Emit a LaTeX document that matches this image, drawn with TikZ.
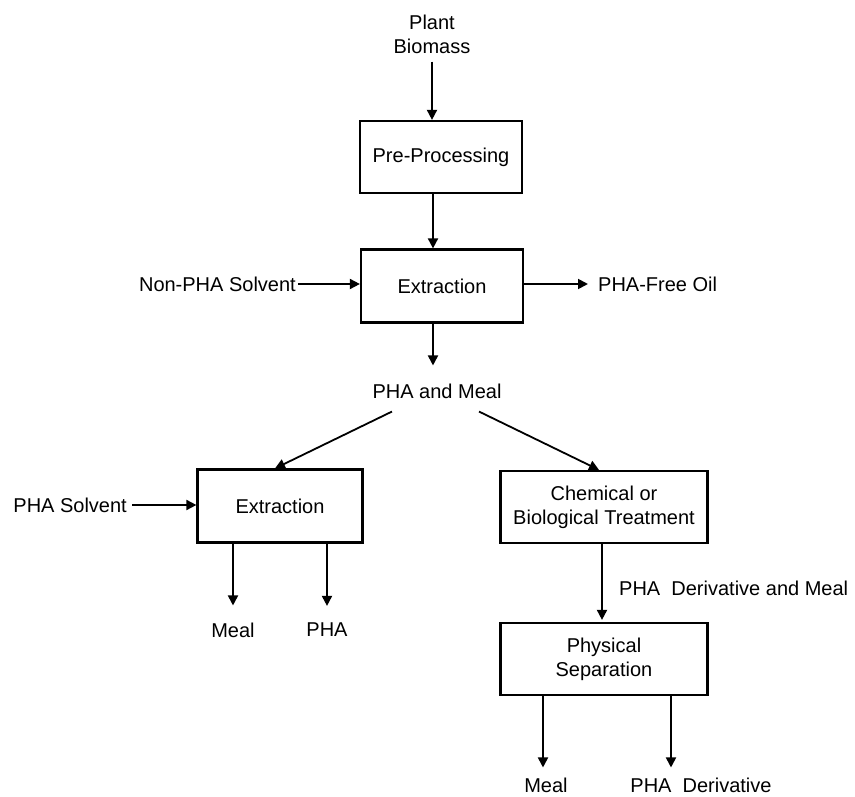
\documentclass[tikz,border=0pt]{standalone}
\usepackage{fontspec}
\setmainfont{Liberation Sans}
\usetikzlibrary{arrows.meta, positioning}

\begin{document}
\begin{tikzpicture}[
  x=1pt, y=-1pt,
  stage/.style={draw, line width=2.2pt, align=center, inner sep=0pt,
                font=\fontsize{20}{24}\selectfont},
  stream/.style={align=center, inner sep=0pt, font=\fontsize{20}{24}\selectfont},
  flow/.style={-{Triangle[length=10pt, width=10pt]}, line width=1.8pt}
]
\useasboundingbox (0,0) rectangle (855,797);

% process units
\node[stage, minimum width=162pt, minimum height=72pt] (pre)   at (441,157) {Pre-Processing};
\node[stage, minimum width=162pt, minimum height=73pt] (ext1)  at (442,286) {Extraction};
\node[stage, minimum width=165pt, minimum height=73pt] (ext2)  at (280,506) {Extraction};
\node[stage, minimum width=207pt, minimum height=72pt] (treat) at (604,507) {Chemical or\\Biological Treatment};
\node[stage, minimum width=207pt, minimum height=72pt] (sep)   at (604,659) {Physical\\Separation};

% feeds and products
\node[stream] (biomass) at (432,34) {Plant\\Biomass};
\node[stream, anchor=east] (nonpha)  at (296,284) {Non-PHA Solvent};
\node[stream, anchor=west] (freeoil) at (598,284) {PHA-Free Oil};
\node[stream] (mix) at (437,391) {PHA and Meal};
\node[stream, anchor=east] (phasolv) at (127,505) {PHA Solvent};
\node[stream] (meal1) at (233,630) {Meal};
\node[stream] (pha1)  at (327,630) {PHA};
\node[stream, anchor=west] (derivmeal) at (619,588) {PHA\ \ Derivative and Meal};
\node[stream] (meal2)  at (546,785) {Meal};
\node[stream] (deriv2) at (701,785) {PHA\ \ Derivative};

% main line
\draw[flow, shorten <=8pt] (biomass.south) -- (biomass.south |- pre.north);
\draw[flow] ([xshift=-8pt]pre.south) -- ([xshift=-8pt]pre.south |- ext1.north);
\draw[flow, shorten <=2pt] (nonpha.east) -- (nonpha.east -| ext1.west);
\draw[flow, shorten >=10pt] (freeoil.west -| ext1.east) -- (freeoil.west);
\draw[flow, shorten >=18pt] ([xshift=-9pt]ext1.south) -- ([xshift=-9pt]ext1.south |- mix.north);

% split of the PHA and meal stream
\draw[flow] ([shift={(-45,13)}]mix.south) -- ([xshift=-5pt]ext2.north);
\draw[flow] ([shift={(42,13)}]mix.south) -- ([xshift=-5pt]treat.north);

% solvent route
\draw[flow, shorten <=5pt] (phasolv.east) -- (phasolv.east -| ext2.west);
\draw[flow, shorten >=17pt] (meal1 |- ext2.south) -- (meal1.north);
\draw[flow, shorten >=17pt] (pha1 |- ext2.south) -- (pha1.north);

% treatment route
\draw[flow, shorten >=2pt] ([xshift=-2pt]treat.south) -- ([xshift=-2pt]sep.north);
\draw[flow, shorten >=10pt] ([xshift=-61pt]sep.south) -- ([xshift=-61pt]sep.south |- meal2.north);
\draw[flow, shorten >=10pt] ([xshift=67pt]sep.south) -- ([xshift=67pt]sep.south |- deriv2.north);
\end{tikzpicture}
\end{document}
